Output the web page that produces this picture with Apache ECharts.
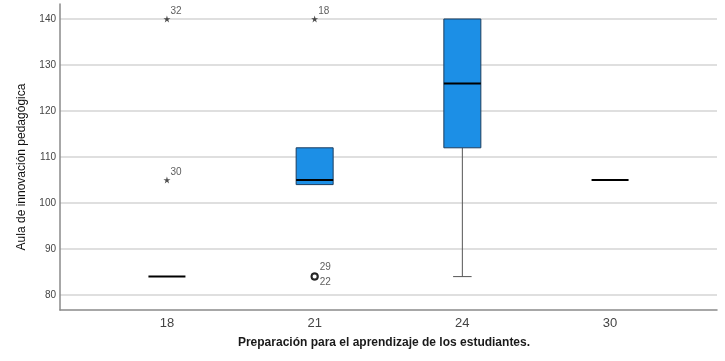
<!DOCTYPE html>
<html>
<head>
<meta charset="utf-8">
<script src="https://cdn.jsdelivr.net/npm/echarts@6/dist/echarts.min.js"></script>
<style>
  html, body { margin: 0; padding: 0; background: #fff; }
  #chart { width: 725px; height: 361px; }
</style>
</head>
<body>
<div id="chart"></div>
<script>
// categorias del eje X
const categories = ['18', '21', '24', '30'];
// resumen de cada caja
const boxMin = [84, 104, 84, 105];
const boxQ1 = [84, 104, 112, 105];
const boxMedian = [84, 105, 126, 105];
const boxQ3 = [84, 112, 140, 105];
const boxMax = [84, 112, 140, 105];
// valores atipicos: [categoria, valor, caso]
const extremes = [[0, 140, '32'], [0, 105, '30'], [1, 140, '18']];
const outliers = [[1, 84, '29'], [1, 84, '22']];
const yTicks = [80, 90, 100, 110, 120, 130, 140];

const boxData = categories.map((c, i) => [i, boxMin[i], boxQ1[i], boxMedian[i], boxQ3[i], boxMax[i]]);

const starPath = 'path://M0,-1L0.2245,-0.309L0.951,-0.309L0.363,0.118L0.588,0.809L0,0.382L-0.588,0.809L-0.363,0.118L-0.951,-0.309L-0.2245,-0.309Z';

function renderBox(params, api) {
  const x = api.value(0);
  const lo = api.coord([x, api.value(1)]);
  const q1 = api.coord([x, api.value(2)]);
  const md = api.coord([x, api.value(3)]);
  const q3 = api.coord([x, api.value(4)]);
  const hi = api.coord([x, api.value(5)]);
  const w = 37;
  const cx = md[0];
  const children = [];
  const whisker = { stroke: '#555', lineWidth: 1 };
  if (lo[1] - q1[1] > 0.5) {
    children.push({ type: 'line', shape: { x1: cx, y1: q1[1], x2: cx, y2: lo[1] }, style: whisker });
    children.push({ type: 'line', shape: { x1: cx - w / 4, y1: lo[1], x2: cx + w / 4, y2: lo[1] }, style: whisker });
  }
  if (q3[1] - hi[1] > 0.5) {
    children.push({ type: 'line', shape: { x1: cx, y1: hi[1], x2: cx, y2: q3[1] }, style: whisker });
    children.push({ type: 'line', shape: { x1: cx - w / 4, y1: hi[1], x2: cx + w / 4, y2: hi[1] }, style: whisker });
  }
  if (q1[1] - q3[1] > 0.5) {
    children.push({
      type: 'rect',
      shape: { x: cx - w / 2, y: q3[1], width: w, height: q1[1] - q3[1] },
      style: { fill: '#1c8fe6', stroke: '#1d3d5e', lineWidth: 1 }
    });
  }
  children.push({
    type: 'line',
    shape: { x1: cx - w / 2, y1: md[1], x2: cx + w / 2, y2: md[1] },
    style: { stroke: '#000', lineWidth: 2 }
  });
  return { type: 'group', children };
}

const chart = echarts.init(document.getElementById('chart'));
chart.setOption({
  animation: false,
  grid: { left: 60, right: 8, top: 4, bottom: 51 },
  xAxis: {
    type: 'value',
    min: -0.724,
    max: 3.724,
    axisLine: { show: true, onZero: false, lineStyle: { color: '#8a8a8a', width: 1.5 } },
    axisTick: { show: false },
    splitLine: { show: false },
    axisLabel: {
      customValues: [0, 1, 2, 3],
      formatter: v => categories[v],
      color: '#444',
      fontSize: 13,
      fontFamily: 'Liberation Sans',
      margin: 7
    }
  },
  yAxis: {
    type: 'value',
    min: 76.74,
    max: 143.26,
    axisLine: { show: true, onZero: false, lineStyle: { color: '#8a8a8a', width: 1.5 } },
    axisTick: { show: false, customValues: yTicks },
    splitLine: { show: true, lineStyle: { color: '#d4d4d4', width: 1.5 } },
    axisLabel: {
      customValues: yTicks,
      color: '#444',
      fontSize: 10,
      fontFamily: 'Liberation Sans',
      margin: 4
    }
  },
  graphic: [
    {
      type: 'text', x: 22, y: 167, rotation: Math.PI / 2,
      style: {
        text: 'Aula de innovación pedagógica',
        fill: '#111', fontSize: 12, fontFamily: 'Liberation Sans Narrow, Liberation Sans',
        textAlign: 'center', textVerticalAlign: 'middle'
      }
    },
    {
      type: 'text', x: 384, y: 343,
      style: {
        text: 'Preparación para el aprendizaje de los estudiantes.',
        fill: '#1a1a1a', fontSize: 12, fontWeight: 'bold', fontFamily: 'Liberation Sans',
        textAlign: 'center', textVerticalAlign: 'middle'
      }
    }
  ],
  series: [
    {
      type: 'custom',
      renderItem: renderBox,
      encode: { x: 0, y: [1, 2, 3, 4, 5] },
      data: boxData,
      z: 3
    },
    {
      type: 'scatter',
      symbol: starPath,
      symbolSize: 7,
      itemStyle: { color: '#222' },
      data: extremes,
      label: {
        show: true, formatter: p => p.data[2], position: [7, -9],
        fontSize: 10, color: '#333', fontFamily: 'Liberation Sans'
      },
      z: 4
    },
    {
      type: 'scatter',
      symbol: 'emptyCircle',
      symbolSize: 6,
      itemStyle: { color: '#111', borderColor: '#111', borderWidth: 1.5 },
      data: outliers.map((d, i) => ({
        value: d,
        label: { position: i === 0 ? [9, -10] : [9, 5] }
      })),
      label: {
        show: true, formatter: p => p.data.value[2],
        fontSize: 10, color: '#333', fontFamily: 'Liberation Sans'
      },
      z: 4
    }
  ]
});
</script>
</body>
</html>
